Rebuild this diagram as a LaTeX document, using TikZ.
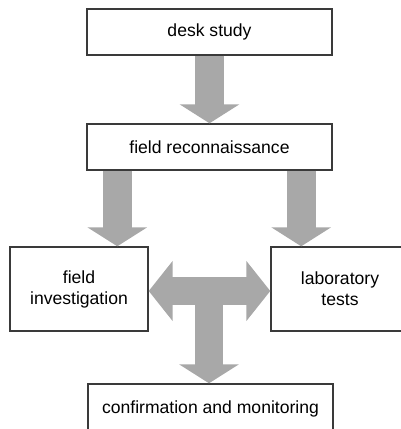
\documentclass[tikz,border=0pt]{standalone}
\usepackage{fontspec}
\setmainfont{Liberation Sans}
\usepackage{tikz}
\usetikzlibrary{positioning,arrows.meta}
\definecolor{boxline}{HTML}{3A3A3A}
\definecolor{blockgray}{HTML}{A8A8A8}
\tikzset{
  stage/.style={draw=boxline, line width=0.8pt, fill=white, align=center, minimum width=49mm, minimum height=9.2mm, inner sep=0pt},
  sidestage/.style={stage, minimum width=27.6mm, minimum height=16.8mm},
  bigarrow/.style={-{Triangle[width=11.8mm,length=3.8mm]}, line width=5.8mm, draw=blockgray},
  bigdouble/.style={{Triangle[width=11.8mm,length=4.8mm]}-{Triangle[width=11.8mm,length=4.8mm]}, line width=5.6mm, draw=blockgray}
}

\begin{document}
\begin{tikzpicture}[x=0.2mm, y=-0.2mm, font=\fontsize{10}{12}\selectfont]
  \useasboundingbox (0,0) rectangle (401,429);

  \node[stage] (desk) at (209.5,32) {desk study};
  \node[stage] (recon) at (209.5,147) {field reconnaissance};
  \node[sidestage] (fieldinv) at (79,289) {field\\investigation};
  \node[sidestage] (labtests) at (340,289) {laboratory\\tests};
  \node[stage, minimum height=10mm] (confirm) at (210.5,409) {confirmation and monitoring};
  \coordinate (tee) at (209,291);

  \draw[bigarrow] (desk.south) -- (recon.north);
  \draw[bigarrow] ([xshift=6.2mm]recon.south west) -- ([xshift=6.2mm]recon.south west |- fieldinv.north);
  \draw[bigarrow] ([xshift=-6.3mm]recon.south east) -- ([xshift=-6.3mm]recon.south east |- labtests.north);

  \draw[bigarrow, line width=5.6mm] (tee) -- (tee |- confirm.north);
  \draw[bigdouble] (fieldinv.east |- tee) -- (labtests.west |- tee);
\end{tikzpicture}
\end{document}
